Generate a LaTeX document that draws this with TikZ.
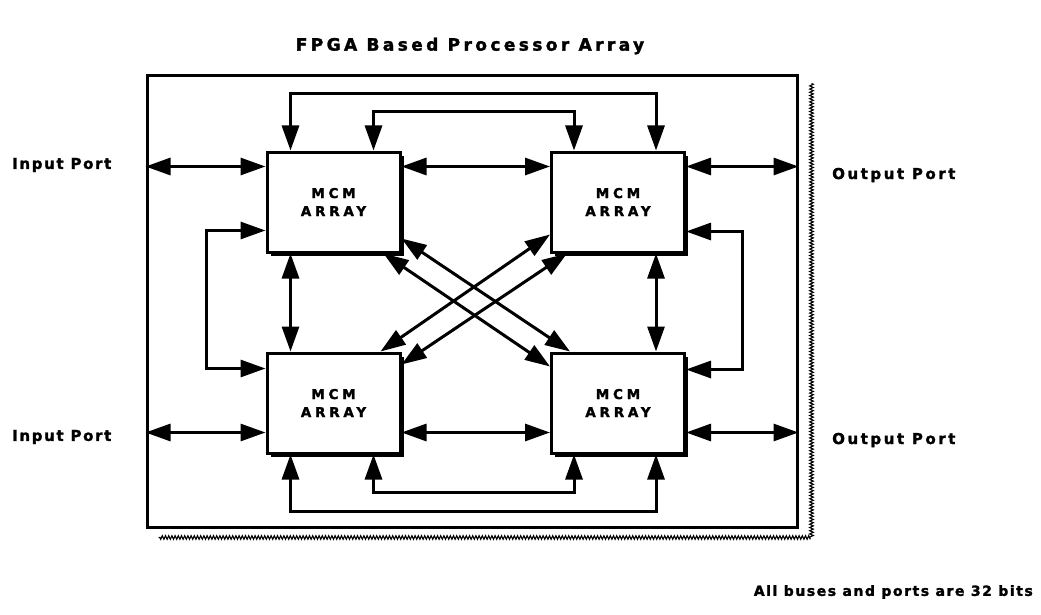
\documentclass[tikz,border=0pt]{standalone}
\usepackage{fontspec}
\newfontfamily\lblfont[FakeBold=1.8]{DejaVu Sans}
\usetikzlibrary{arrows.meta,shadows,decorations.pathmorphing,calc}
\newcommand{\lsp}[2]{\fontsize{#1}{#1}\selectfont\lblfont\bfseries\addfontfeatures{LetterSpace=#2}}
\begin{document}
\begin{tikzpicture}[x=1pt,y=-1pt,
  mcm/.style={draw,line width=3pt,minimum width=133pt,minimum height=100pt,inner sep=0pt,fill=white,align=center,
    font=\fontsize{13.5}{18}\selectfont\lblfont\bfseries\addfontfeatures{LetterSpace=28},
    drop shadow={shadow xshift=3.5pt,shadow yshift=-3.5pt,fill=black,opacity=1}},
  bus/.style={line width=3pt},
  dbl/.style={bus,{Triangle[length=25pt,width=17pt]}-{Triangle[length=25pt,width=17pt]}},
  lab/.style={inner sep=0pt}]
\useasboundingbox[fill=white] (0,0) rectangle (1041,615);
% outer frame and its shadow
\node[draw,line width=3pt,minimum width=650pt,minimum height=451pt,inner sep=0pt] (frame) at (472,301.5) {};
\draw[decorate,decoration={zigzag,amplitude=1.8pt,segment length=3.2pt},line width=1.1pt]
  ([xshift=13pt,yshift=-9pt]frame.north east) -- ([xshift=13pt,yshift=-9pt]frame.south east) -- ([xshift=13pt,yshift=-9pt]frame.south west);
% MCM boxes
\node[mcm] (TL) at (333.5,202) {MCM\\ARRAY};
\node[mcm] (TR) at (618,202) {MCM\\ARRAY};
\node[mcm] (BL) at (333.5,403) {MCM\\ARRAY};
\node[mcm] (BR) at (618,403) {MCM\\ARRAY};
% horizontal rows
\coordinate (ra) at ([yshift=-16pt]TL.north west);
\coordinate (rb) at ([yshift=-81pt]BL.north west);
\draw[dbl] (ra -| frame.west) -- (ra);
\draw[dbl] (ra -| TL.east) -- (ra -| TR.west);
\draw[dbl] (ra -| TR.east) -- (ra -| frame.east);
\draw[dbl] (rb -| frame.west) -- (rb);
\draw[dbl] (rb -| BL.east) -- (rb -| BR.west);
\draw[dbl] (rb -| BR.east) -- (rb -| frame.east);
% top loops
\draw[dbl] ([xshift=25pt]TL.north west) -- ++(0,-57) -| ([xshift=106pt]TR.north west);
\draw[dbl] ([xshift=108pt]TL.north west) -- ++(0,-39) -| ([xshift=24pt]TR.north west);
% bottom loops
\draw[dbl] ([xshift=25pt]BL.south west) -- ++(0,57) -| ([xshift=106pt]BR.south west);
\draw[dbl] ([xshift=108pt]BL.south west) -- ++(0,38) -| ([xshift=24pt]BR.south west);
% side loops
\draw[dbl] ([yshift=-80pt]TL.north west) -- ++(-59,0) |- ([yshift=-17pt]BL.north west);
\draw[dbl] ([yshift=-81pt]TR.north east) -- ++(56,0) |- ([yshift=-18pt]BR.north east);
% verticals
\draw[dbl] ([xshift=25pt]TL.south west) -- ([xshift=25pt]BL.north west);
\draw[dbl] ([xshift=106pt]TR.south west) -- ([xshift=106pt]BR.north west);
% diagonals
\draw[dbl] ([yshift=15pt]TL.south east) -- ([xshift=20pt]BR.north west);
\draw[dbl] ([xshift=-18pt]TL.south east) -- ([yshift=-15pt]BR.north west);
\draw[dbl] ([yshift=19pt]TR.south west) -- ([xshift=-21pt]BL.north east);
\draw[dbl] ([xshift=17pt]TR.south west) -- ([yshift=-13pt]BL.north east);
% labels
\node[lab,font=\lsp{17}{20}] (title) at (470,46) {FPGA Based Processor Array};
\node[lab,anchor=west,font=\lsp{15}{11}] (in1) at (12,165) {Input Port};
\node[lab,anchor=west,font=\lsp{15}{11}] (in2) at (12,437) {Input Port};
\node[lab,anchor=west,font=\lsp{15}{17}] (out1) at (832,175) {Output Port};
\node[lab,anchor=west,font=\lsp{15}{17}] (out2) at (832,440) {Output Port};
\node[lab,anchor=east,font=\lsp{14}{11}] (note) at (1033,592) {All buses and ports are 32 bits};
\end{tikzpicture}
\end{document}
